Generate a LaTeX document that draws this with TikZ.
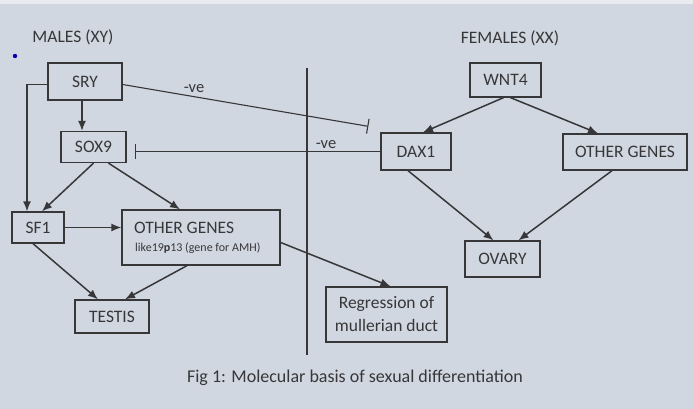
\documentclass[tikz,border=0pt]{standalone}
\usepackage{fontspec}
\setmainfont{Carlito}
\usetikzlibrary{arrows.meta,calc}
\definecolor{bg}{RGB}{208,215,224}
\definecolor{ink}{RGB}{55,55,58}
\begin{document}
\begin{tikzpicture}[x=1pt,y=-1pt,
  box/.style={draw=ink,line width=1.3pt,inner sep=0pt,text=ink,font=\fontsize{17.5}{19}\selectfont,align=center},
  lbl/.style={text=ink,inner sep=0pt,font=\fontsize{17.5}{19}\selectfont},
  conn/.style={draw=ink,line width=1.5pt,-{Latex[length=10pt,width=8pt]}},
  inh/.style={draw=ink,line width=1.1pt,-{Bar[width=15pt,line width=1.1pt]}}]
\fill[bg] (0,0) rectangle (693,409);
\useasboundingbox (0,0) rectangle (693,409);
\fill[bg!50!white] (0,0) rectangle (693,4);
% blue dot
\fill[blue!70!black] (15,56) circle (2.2pt);
% headings
\node[lbl] (males) at (73,37) {MALES (XY)};
\node[lbl] (females) at (510,38) {FEMALES (XX)};
% male nodes
\node[box,minimum width=74pt,minimum height=37pt] (sry) at (85,81.5) {SRY};
\node[box,minimum width=65pt,minimum height=31pt] (sox9) at (93.5,147) {SOX9};
\node[box,minimum width=52pt,minimum height=31pt] (sf1) at (38,227.5) {SF1};
\node[box,minimum width=158pt,minimum height=55pt] (og) at (201,237.5) {};
\node[lbl,anchor=west] (ogt) at (134,228) {OTHER GENES};
\node[lbl,anchor=west,font=\fontsize{12}{14}\selectfont] (ogs) at (135,248) {like19\textbf{p}13 (gene for AMH)};
\node[box,minimum width=74pt,minimum height=33pt] (testis) at (112,316.5) {TESTIS};
\node[box,minimum width=121pt,minimum height=55pt,font=\fontsize{17.5}{23}\selectfont] (reg) at (386.5,314.5) {Regression of\\mullerian duct};
% female nodes
\node[box,minimum width=71pt,minimum height=34pt] (wnt4) at (505.5,80) {WNT4};
\node[box,minimum width=70pt,minimum height=37pt] (dax1) at (416,151.5) {DAX1};
\node[box,minimum width=124pt,minimum height=36pt] (ogf) at (625,152) {OTHER GENES};
\node[box,minimum width=75pt,minimum height=36pt] (ovary) at (502.5,259) {OVARY};
% divider
\draw[ink,line width=1.7pt] (307,68) -- (307,355);
% male connectors
\draw[conn] ([xshift=-3pt]sry.south) -- ([xshift=-3pt]sry.south |- sox9.north);
\draw[conn] ([yshift=-3pt]sry.west) -| ([xshift=-11pt]sf1.north);
\draw[conn] (sox9.south) -- ([xshift=4pt]sf1.north);
\draw[conn] ([xshift=15pt]sox9.south) -- ([xshift=-21pt]og.north);
\draw[conn] (sf1.east) -- (sf1.east -| og.west);
\draw[conn] ([xshift=-5pt]sf1.south) -- ([xshift=-14pt]testis.north);
\draw[conn] ([xshift=-14pt]og.south) -- ([xshift=13pt]testis.north);
\draw[conn] ([yshift=-5pt]og.east) -- ([xshift=4pt]reg.north);
% inhibitions
\coordinate (inhA) at ([xshift=-12pt,yshift=6pt]dax1.north west);
\draw[inh] ([yshift=-3pt]sry.east) -- (inhA);
\draw[inh] (dax1.west) -- ([xshift=8pt]sox9.east |- dax1.west);
\node[lbl,font=\fontsize{16.5}{18}\selectfont] (ve1) at (194,89) {-ve};
\node[lbl,font=\fontsize{16.5}{18}\selectfont] (ve2) at (326,145) {-ve};
% female connectors
\draw[conn] ([xshift=-2pt]wnt4.south) -- ([xshift=7pt]dax1.north);
\draw[conn] ([xshift=5pt]wnt4.south) -- ([xshift=-27pt]ogf.north);
\draw[conn] ([xshift=-8pt]dax1.south) -- ([xshift=-9pt]ovary.north);
\draw[conn] ([xshift=-13pt]ogf.south) -- ([xshift=16pt]ovary.north);
% caption
\node[lbl,font=\fontsize{18}{20}\selectfont] (cap) at (355,378) {Fig 1: Molecular basis of sexual differentiation};
\end{tikzpicture}
\end{document}
